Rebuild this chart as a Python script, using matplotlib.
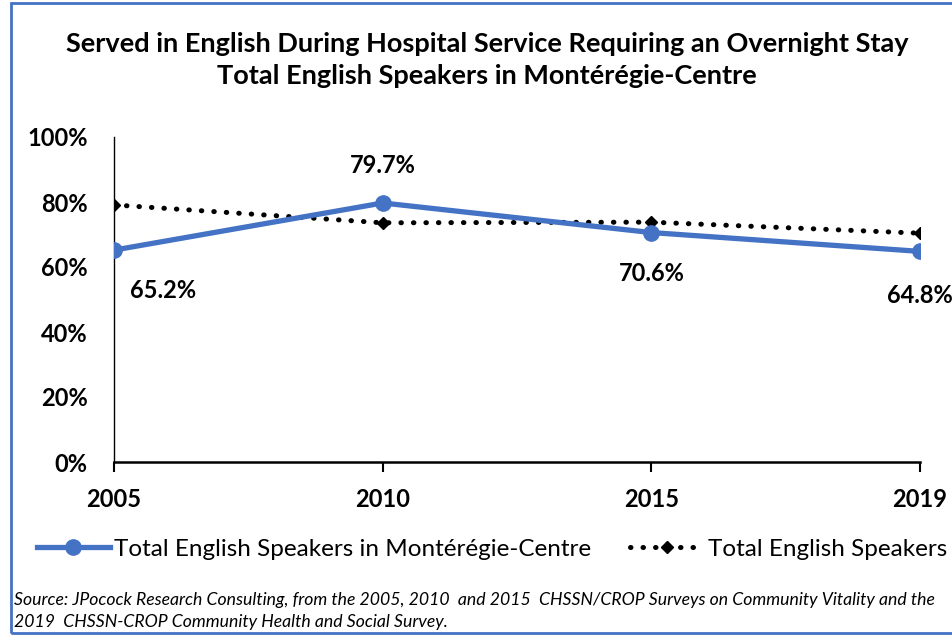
import numpy as np
import matplotlib.pyplot as plt
from matplotlib.patches import Rectangle

# data
years = ['2005', '2010', '2015', '2019']
monteregie = [65.2, 79.7, 70.6, 64.8]
total_english = [79.1, 73.6, 73.8, 70.4]
yticks = [0, 20, 40, 60, 80, 100]

blue = '#4472C4'
font = 'Lato'

fig = plt.figure(figsize=(9.53, 6.36), dpi=100)
ax = fig.add_axes([114/953, 1 - 462/636, 806/953, 325/636])

x = np.arange(len(years))
ax.plot(x, total_english, color='black', linestyle=(0, (0.1, 2.4)), linewidth=3.6,
        dash_capstyle='round', marker='D', markersize=6, markerfacecolor='black',
        markeredgecolor='black', label='Total English Speakers', zorder=2)
ax.plot(x, monteregie, color=blue, linewidth=3.8, marker='o', markersize=11,
        label='Total English Speakers in Montérégie-Centre', zorder=3)

# data labels
offsets = [-9, 8, -9, -10]
for i, v in enumerate(monteregie):
    dy = offsets[i]
    va = 'bottom' if dy > 0 else 'top'
    ax.text(x[i] + (0.06 if i == 0 else 0), v + dy, f'{v:.1f}%',
            ha='left' if i == 0 else 'center', va=va, fontsize=17, fontweight='bold',
            family=font, clip_on=False)

ax.set_xlim(0, 3)
ax.set_ylim(0, 100)
ax.set_xticks(x)
ax.set_xticklabels(years, fontsize=17, fontweight='bold', family=font)
ax.set_yticks(yticks)
ax.set_yticklabels([f'{t}%' for t in yticks], fontsize=17, fontweight='bold', family=font)
ax.tick_params(axis='y', length=0, pad=19)
ax.tick_params(axis='x', length=7, width=1.5, direction='out', pad=12)
ax.spines['top'].set_visible(False)
ax.spines['right'].set_visible(False)
ax.spines['left'].set_linewidth(1.0)
ax.spines['bottom'].set_linewidth(1.8)

fig.text(487/953, 1 - 44/636, 'Served in English During Hospital Service Requiring an Overnight Stay',
         ha='center', va='center', fontsize=19.5, fontweight='bold', family=font)
fig.text(487/953, 1 - 76/636, 'Total English Speakers in Montérégie-Centre',
         ha='center', va='center', fontsize=19.5, fontweight='bold', family=font)

handles, labels = ax.get_legend_handles_labels()
fig.legend(handles[::-1], labels[::-1], loc='center', bbox_to_anchor=(492/953, 1 - 549/636),
           ncol=2, frameon=False, prop={'family': font, 'size': 17.5},
           handlelength=3.0, handletextpad=0.2, columnspacing=1.6)

fig.text(14/953, 1 - 600/636,
         'Source: JPocock Research Consulting, from the 2005, 2010  and 2015  CHSSN/CROP Surveys on Community Vitality and the',
         ha='left', va='center', fontsize=12.7, style='italic', family=font)
fig.text(14/953, 1 - 622/636,
         '2019  CHSSN-CROP Community Health and Social Survey.',
         ha='left', va='center', fontsize=12.7, style='italic', family=font)

fig.patches.append(Rectangle((11/953, 3/636), 1.0, 1 - 6/636, transform=fig.transFigure,
                             fill=False, edgecolor=blue, linewidth=2, zorder=0))

fig.savefig('out.png', dpi=100)
